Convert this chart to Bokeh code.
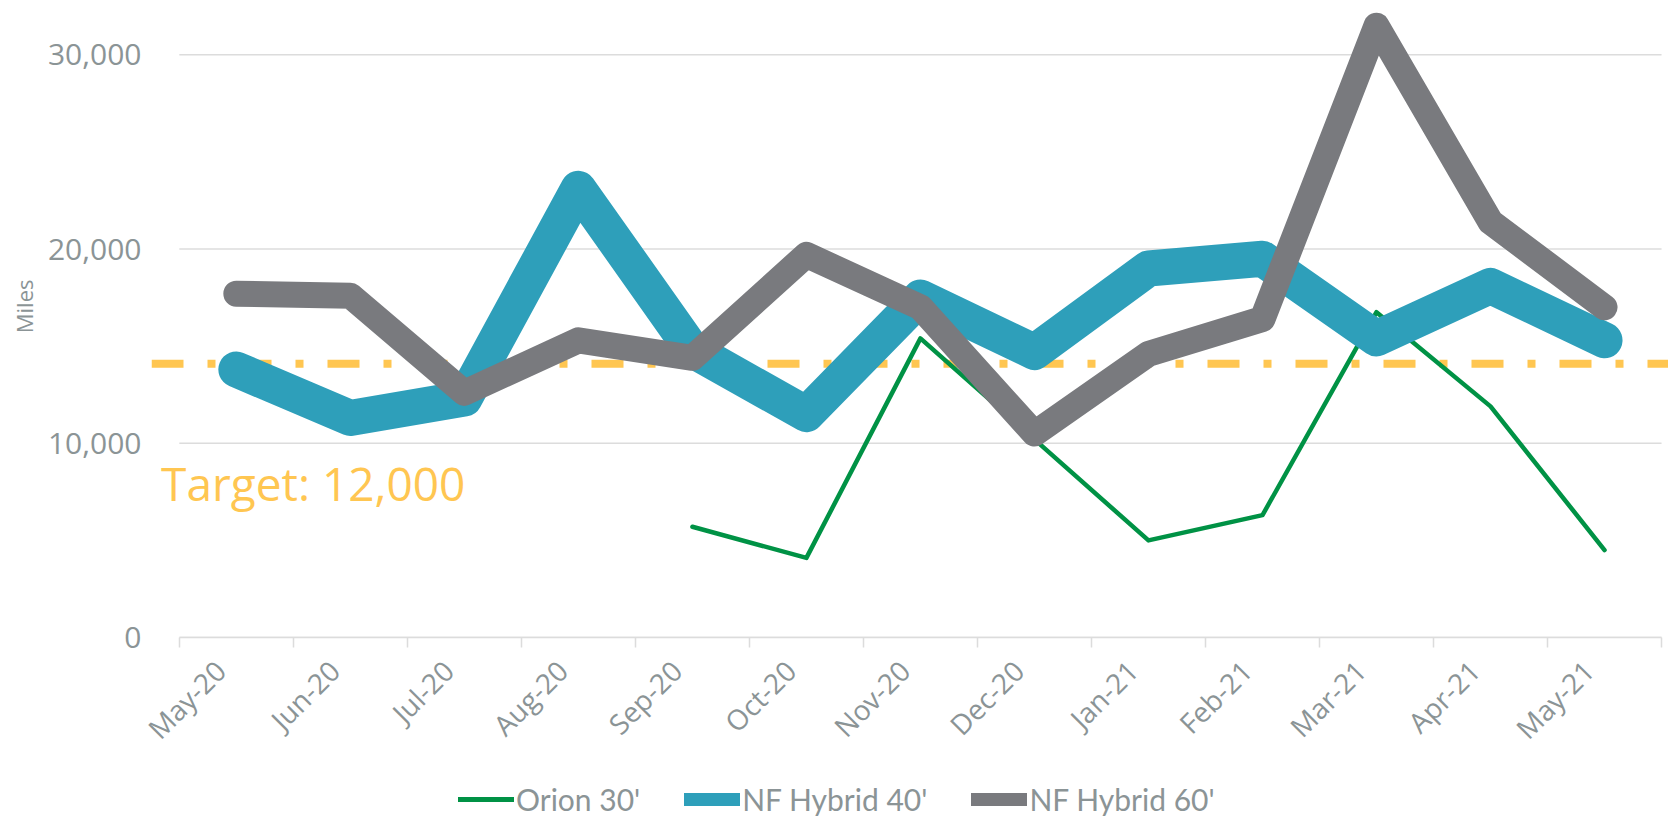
import math
from bokeh.plotting import figure
from bokeh.layouts import column
from bokeh.models import (Range1d, FixedTicker, NumeralTickFormatter, Span, Label, Title,
                          Legend, LegendItem, CustomJSTickFormatter)
from bokeh.embed import file_html
from bokeh.resources import INLINE

nan = float("nan")

# ---- data ----
months = ["May-20", "Jun-20", "Jul-20", "Aug-20", "Sep-20", "Oct-20", "Nov-20",
          "Dec-20", "Jan-21", "Feb-21", "Mar-21", "Apr-21", "May-21"]
orion_30 = [nan, nan, nan, nan, 5700, 4100, 15400, 10200, 5000, 6300, 16750, 11900, 4500]
nf_hybrid_40 = [13800, 11300, 12300, 23100, 14800, 11500, 17500, 14700, 19000, 19500, 15400, 18100, 15300]
nf_hybrid_60 = [17700, 17600, 12600, 15300, 14400, 19700, 17000, 10500, 14600, 16400, 31500, 21400, 17000]
series_names = ["Orion 30'", "NF Hybrid 40'", "NF Hybrid 60'"]
target_value = 14100
target_text = "Target: 12,000"
y_ticks = [0, 10000, 20000, 30000]
y_axis_label = "Miles"

# ---- styles ----
GREEN = "#009245"
TEAL = "#2E9FBA"
GRAY = "#797A7E"
YELLOW = "#FFC651"
TEXT = "#8B9496"
GRID = "#DCDCDC"

n = len(months)
xs = list(range(n))
bounds = [i - 0.5 for i in range(n + 1)]
x_lo, x_hi = -0.5, n - 0.5          # category band edges (axis extent)
pad_left, pad_right = 0.244, 0.061  # frame overhang (target line spans it)
label_shift = 0.14                  # tick-label anchor shift

W = 1668
p = figure(width=W, height=775, output_backend="svg", toolbar_location=None,
           x_range=Range1d(x_lo - pad_left, x_hi + pad_right),
           y_range=Range1d(0, 32384),
           min_border_left=142, min_border_right=0, min_border_top=8,
           min_border_bottom=138)
p.outline_line_color = None
p.background_fill_color = "white"
p.border_fill_color = "white"

# grid (drawn as segments so it starts at the category edge)
p.xgrid.visible = False
p.ygrid.visible = False
p.segment(x0=[x_lo] * len(y_ticks), x1=[x_hi] * len(y_ticks), y0=y_ticks, y1=y_ticks,
          line_color=GRID, line_width=1.5)

# y axis
p.yaxis.ticker = FixedTicker(ticks=y_ticks)
p.yaxis.formatter = NumeralTickFormatter(format="0,0")
p.yaxis.axis_line_color = None
p.yaxis.major_tick_line_color = None
p.yaxis.minor_tick_line_color = None
p.yaxis.major_label_standoff = 4
p.yaxis.major_label_text_font = "Open Sans"
p.yaxis.major_label_text_font_size = "30px"
p.yaxis.major_label_text_color = TEXT

# y axis title (as a side title so it can sit where the reference has it)
p.add_layout(Title(text=y_axis_label, align="right", offset=271, standoff=12,
                   text_font="Open Sans", text_font_size="22px",
                   text_font_style="normal", text_color=TEXT), "left")

# x axis
p.xaxis.bounds = (x_lo, x_hi)
p.xaxis.ticker = FixedTicker(ticks=[i - label_shift for i in xs], minor_ticks=bounds)
p.xaxis.formatter = CustomJSTickFormatter(
    args=dict(labels=months, shift=label_shift),
    code="const i = Math.round(tick + shift); return labels[i] ?? '';")
p.xaxis.major_label_orientation = math.pi / 4
p.xaxis.major_label_text_font = "Open Sans"
p.xaxis.major_label_text_font_size = "28px"
p.xaxis.major_label_text_color = TEXT
p.xaxis.major_label_standoff = 18
p.xaxis.major_tick_line_color = None
p.xaxis.minor_tick_line_color = GRID
p.xaxis.minor_tick_line_width = 1.5
p.xaxis.minor_tick_in = 0
p.xaxis.minor_tick_out = 10
p.xaxis.axis_line_color = GRID
p.xaxis.axis_line_width = 1.5

# target line
target = Span(location=target_value, dimension="width", line_color=YELLOW,
              line_width=8, line_dash="32 24 8 24", line_dash_offset=0,
              level="underlay")
p.add_layout(target)

# series
p.line(xs, orion_30, line_color=GREEN, line_width=4.5, line_join="round", line_cap="round")
p.line(xs, nf_hybrid_40, line_color=TEAL, line_width=36, line_join="round", line_cap="round")
p.line(xs, nf_hybrid_60, line_color=GRAY, line_width=26, line_join="round", line_cap="round")

# target label
p.add_layout(Label(x=-0.66, y=7950, text=target_text, text_font="Open Sans",
                   text_font_size="46px", text_color=YELLOW,
                   text_baseline="alphabetic", text_align="left"))

# ---- legend strip (separate small figure below the chart) ----
pl = figure(width=W, height=42, output_backend="svg", toolbar_location=None,
            x_axis_type=None, y_axis_type=None, x_range=Range1d(0, 1), y_range=Range1d(0, 1),
            min_border=0, min_border_left=0, min_border_right=0,
            min_border_top=0, min_border_bottom=0)
pl.outline_line_color = None
pl.grid.visible = False
# proxy renderers (one invisible NaN point each) that only feed the legend
lg_g = pl.line([nan], [nan], line_color=GREEN, line_width=5, line_cap="round")
lg_t = pl.line([nan], [nan], line_color=TEAL, line_width=13, line_cap="round")
lg_k = pl.line([nan], [nan], line_color=GRAY, line_width=13, line_cap="round")
legend = Legend(items=[LegendItem(label=series_names[0], renderers=[lg_g]),
                       LegendItem(label=series_names[1], renderers=[lg_t]),
                       LegendItem(label=series_names[2], renderers=[lg_k])],
                orientation="horizontal", location=(307, 0),
                label_text_font="Lato", label_text_font_size="30px",
                label_text_color=TEXT, glyph_width=56, glyph_height=30,
                label_height=30, label_standoff=2, spacing=44, padding=0,
                margin=0, border_line_color=None, background_fill_alpha=0)
pl.add_layout(legend)

layout = column(p, pl, spacing=0)
open("out.html", "w").write(file_html(layout, INLINE))
